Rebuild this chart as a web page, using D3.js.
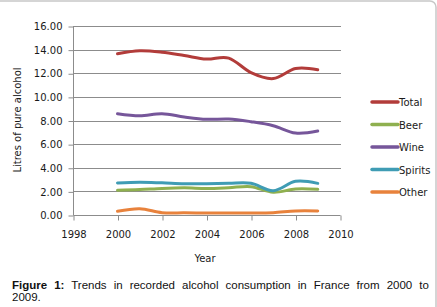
<!DOCTYPE html>
<html>
<head>
<meta charset="utf-8">
<script src="https://cdn.jsdelivr.net/npm/d3@7"></script>
<style>
  body { margin: 0; background: #fff; }
  svg { display: block; }
</style>
</head>
<body>
<div id="chart"></div>
<script>
// years and series (litres of pure alcohol per person)
const years = [2000, 2001, 2002, 2003, 2004, 2005, 2006, 2007, 2008, 2009];
const total   = [13.65, 13.9, 13.78, 13.5, 13.2, 13.28, 12.05, 11.55, 12.4, 12.3];
const beer    = [2.09, 2.15, 2.25, 2.3, 2.25, 2.31, 2.4, 1.92, 2.2, 2.17];
const wine    = [8.58, 8.4, 8.58, 8.3, 8.1, 8.13, 7.9, 7.56, 6.94, 7.11];
const spirits = [2.71, 2.77, 2.72, 2.65, 2.65, 2.68, 2.68, 2.06, 2.85, 2.68];
const other   = [0.31, 0.53, 0.2, 0.18, 0.17, 0.17, 0.17, 0.2, 0.34, 0.34];

const seriesNames = ["Total", "Beer", "Wine", "Spirits", "Other"];
const seriesValues = [total, beer, wine, spirits, other];
const seriesColors = ["#b23c3a", "#8fb04f", "#76569a", "#3f9cb4", "#e8823c"];

const xTicks = [1998, 2000, 2002, 2004, 2006, 2008, 2010];
const yTicks = [0, 2, 4, 6, 8, 10, 12, 14, 16];

const W = 437, H = 307;
const plot = {left: 73, right: 340, top: 26, bottom: 215};

const svg = d3.select("#chart").append("svg")
    .attr("width", W)
    .attr("height", H);

// chart frame (only the top and rounded corner are visible)
svg.append("rect")
    .attr("x", -6).attr("y", 1)
    .attr("width", W + 5).attr("height", 400)
    .attr("rx", 6)
    .attr("fill", "none")
    .attr("stroke", "#c8c8c8")
    .attr("stroke-width", 1.5);

const x = d3.scaleLinear().domain([1998, 2010]).range([plot.left, plot.right]);
const y = d3.scaleLinear().domain([0, 16]).range([plot.bottom, plot.top]);

const font = "'DejaVu Sans', Verdana, sans-serif";

// gridlines
svg.append("g")
    .selectAll("line")
    .data(yTicks.filter(d => d > 0))
    .join("line")
    .attr("x1", plot.left).attr("x2", plot.right + 1)
    .attr("y1", d => Math.round(y(d)) + 0.5)
    .attr("y2", d => Math.round(y(d)) + 0.5)
    .attr("stroke", "#8c8c8c");

// y axis
const yAxis = svg.append("g")
    .attr("transform", "translate(" + (plot.left + 0.5) + ",0.5)")
    .call(d3.axisLeft(y).tickValues(yTicks).tickFormat(d3.format(".2f")).tickSize(5).tickPadding(6));

// x axis
const xAxis = svg.append("g")
    .attr("transform", "translate(0.5," + (Math.round(plot.bottom) + 0.5) + ")")
    .call(d3.axisBottom(x).tickValues(xTicks).tickFormat(d3.format("d")).tickSize(5).tickPadding(10));

[yAxis, xAxis].forEach(a => {
    a.select(".domain").attr("stroke", "#8c8c8c");
    a.selectAll(".tick line").attr("stroke", "#8c8c8c");
    a.selectAll("text")
        .attr("font-family", font)
        .attr("font-size", 10)
        .attr("fill", "#1a1a1a");
});
yAxis.select(".domain").attr("d", "M0," + y(16) + "V" + y(0));
xAxis.select(".domain").attr("d", "M" + plot.left + ",0H" + plot.right);

// smoothed lines like Excel
const line = d3.line()
    .x((d, i) => x(years[i]))
    .y(d => y(d))
    .curve(d3.curveCatmullRom.alpha(0));

svg.append("g")
    .selectAll("path")
    .data(seriesValues)
    .join("path")
    .attr("d", d => line(d))
    .attr("fill", "none")
    .attr("stroke", (d, i) => seriesColors[i])
    .attr("stroke-width", 3)
    .attr("stroke-linecap", "round");

// legend
const legend = svg.append("g")
    .selectAll("g")
    .data(seriesNames)
    .join("g")
    .attr("transform", (d, i) => "translate(372," + (102 + i * 22.5) + ")");

legend.append("line")
    .attr("x1", 0).attr("x2", 26)
    .attr("stroke", (d, i) => seriesColors[i])
    .attr("stroke-width", 3.5)
    .attr("stroke-linecap", "round");

legend.append("text")
    .attr("x", 27)
    .attr("y", 4)
    .attr("font-family", font)
    .attr("font-size", 10)
    .attr("fill", "#1a1a1a")
    .text(d => d);

// axis titles
svg.append("text")
    .attr("transform", "translate(21,120) rotate(-90)")
    .attr("text-anchor", "middle")
    .attr("font-family", font)
    .attr("font-size", 10)
    .attr("fill", "#1a1a1a")
    .text("Litres of pure alcohol");

svg.append("text")
    .attr("x", 205)
    .attr("y", 262)
    .attr("text-anchor", "middle")
    .attr("font-family", font)
    .attr("font-size", 10)
    .attr("fill", "#1a1a1a")
    .text("Year");

// caption, justified on the first line
const capFont = "'Liberation Sans', Arial, sans-serif";
const cap = svg.append("text")
    .attr("x", 12)
    .attr("y", 289)
    .attr("font-family", capFont)
    .attr("font-size", 11.5)
    .attr("fill", "#111");
cap.append("tspan").attr("font-weight", "bold").text("Figure 1:");
cap.append("tspan").text(" Trends in recorded alcohol consumption in France from 2000 to");
const natural = cap.node().getComputedTextLength();
const spaces = 10;
cap.attr("word-spacing", ((425 - 12) - natural) / spaces);

svg.append("text")
    .attr("x", 12)
    .attr("y", 301)
    .attr("font-family", capFont)
    .attr("font-size", 11.5)
    .attr("fill", "#111")
    .text("2009.");
</script>
</body>
</html>
